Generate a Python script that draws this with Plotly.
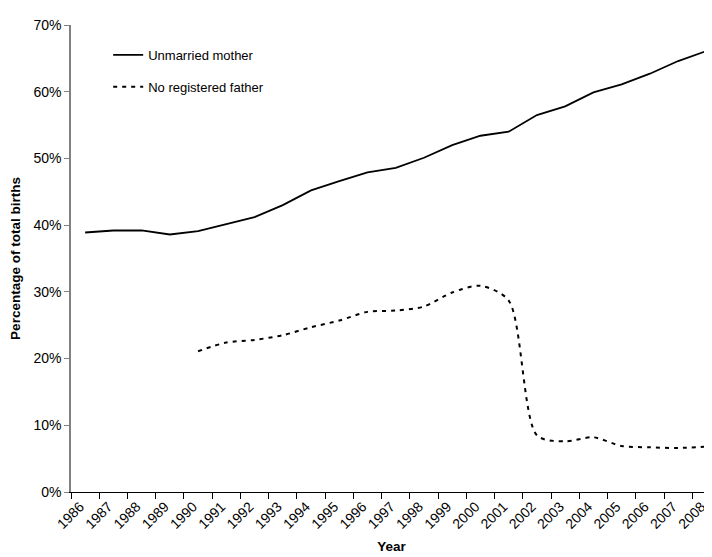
import plotly.graph_objects as go

years = [str(y) for y in range(1986, 2009)]
unmarried_mother = [38.9, 39.2, 39.2, 38.6, 39.1, 40.2, 41.2, 43.0, 45.2, 46.6, 47.9,
                    48.6, 50.1, 52.0, 53.4, 54.0, 56.5, 57.8, 59.9, 61.1, 62.7, 64.6, 66.1]
no_father_years = [str(y) for y in range(1990, 2009)]
no_registered_father = [21.1, 22.4, 22.8, 23.5, 24.7, 25.7, 27.0, 27.2, 27.8, 29.9, 30.9,
                        28.7, 8.5, 7.6, 8.2, 6.9, 6.7, 6.6, 6.8]

FONT = "Liberation Sans, Arial, sans-serif"

fig = go.Figure()
fig.add_trace(go.Scatter(
    x=years, y=unmarried_mother, mode="lines", name="Unmarried mother",
    line=dict(color="black", width=1.8), legendgroup="a"))
fig.add_trace(go.Scatter(
    x=no_father_years, y=no_registered_father, mode="lines", name="No registered father",
    line=dict(color="black", width=2, dash="4px,5px", shape="spline", smoothing=0.8),
    legendgroup="b"))

# page body has an 8px margin, so the figure is 8px smaller than the window
fig.update_layout(
    width=704, height=549,
    margin=dict(l=63, r=0, t=17, b=65),
    paper_bgcolor="white", plot_bgcolor="white",
    font=dict(family=FONT, size=13, color="black"),
    showlegend=True,
    legend=dict(x=0.058, y=0.968, xanchor="left", yanchor="top",
                bgcolor="rgba(0,0,0,0)", traceorder="grouped", tracegroupgap=12,
                font=dict(size=13)),
    xaxis=dict(
        type="category", categoryorder="array", categoryarray=years,
        range=[-0.5, 22.2], tickson="boundaries", ticks="outside", ticklen=6,
        tickcolor="black", showline=True, linecolor="black", linewidth=1,
        showgrid=False, zeroline=False, tickangle=-45, ticklabelshift=-5,
        tickfont=dict(size=14),
        title=dict(text="<b>Year</b>", font=dict(size=13.5), standoff=10),
        automargin=False),
    yaxis=dict(
        range=[0, 70], dtick=10, ticksuffix="%", ticks="outside", ticklen=5,
        tickcolor="#808080", showline=True, linecolor="#808080", linewidth=1.5,
        showgrid=False, zeroline=False, tickfont=dict(size=14),
        title=dict(text="<b>Percentage of total births</b>", font=dict(size=13.5), standoff=10),
        automargin=False),
)

fig.write_html("out.html")
